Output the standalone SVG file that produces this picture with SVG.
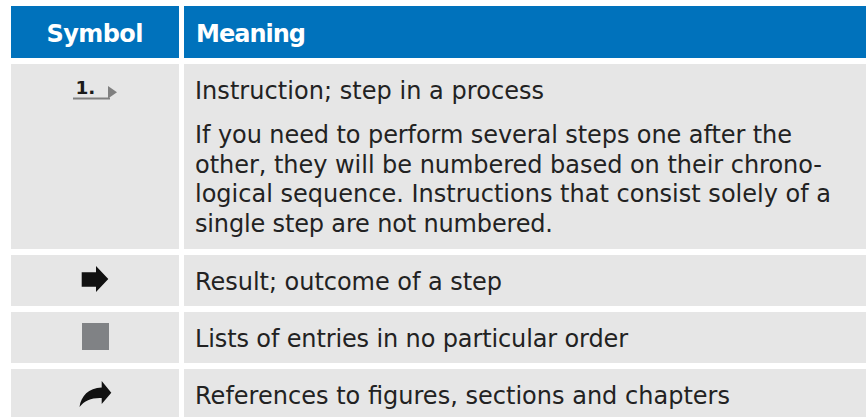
<svg xmlns="http://www.w3.org/2000/svg" width="866" height="417" viewBox="0 0 866 417">
<style>
.hd{fill:#0072BC}
.cell{fill:#E6E6E6}
.ht{font-family:"DejaVu Sans",sans-serif;font-weight:bold;font-size:24px;fill:#FFFFFF}
.t{font-family:"DejaVu Sans",sans-serif;font-size:24px;fill:#222222}
</style>
<rect width="866" height="417" fill="#FFFFFF"/>
<g id="header">
<rect class="hd" x="11" y="6" width="168" height="52"/>
<rect class="hd" x="184" y="6" width="682" height="52"/>
<text class="ht" x="95" y="41.7" text-anchor="middle" textLength="97">Symbol</text>
<text class="ht" x="196" y="41.7" textLength="110">Meaning</text>
</g>
<g id="row-instruction">
<rect class="cell" x="11" y="64" width="168" height="185"/>
<rect class="cell" x="184" y="64" width="682" height="185"/>
<text x="75.5" y="94" font-family="'DejaVu Sans',sans-serif" font-weight="bold" font-size="18.5" fill="#1A1A1A">1.</text>
<rect x="73" y="97.5" width="37" height="2" fill="#808080"/>
<polygon points="108,86 117,92.3 108,98.5" fill="#808080"/>
<text class="t" x="195" y="99" textLength="349">Instruction; step in a process</text>
<text class="t" x="195" y="143" textLength="597">If you need to perform several steps one after the</text>
<text class="t" x="195" y="172.5" textLength="627">other, they will be numbered based on their chrono-</text>
<text class="t" x="195" y="202" textLength="636">logical sequence. Instructions that consist solely of a</text>
<text class="t" x="195" y="231.5" textLength="358">single step are not numbered.</text>
</g>
<g id="row-result">
<rect class="cell" x="11" y="255" width="168" height="51"/>
<rect class="cell" x="184" y="255" width="682" height="51"/>
<polygon points="81.7,272.3 96,272.3 96,266 108.3,279 96,292 96,286.7 81.7,286.7" fill="#111111"/>
<text class="t" x="195" y="289.5" textLength="307">Result; outcome of a step</text>
</g>
<g id="row-list">
<rect class="cell" x="11" y="312" width="168" height="51"/>
<rect class="cell" x="184" y="312" width="682" height="51"/>
<rect x="82" y="323" width="27" height="27" fill="#808285"/>
<text class="t" x="195" y="346.7" textLength="433">Lists of entries in no particular order</text>
</g>
<g id="row-reference">
<rect class="cell" x="11" y="369" width="168" height="60"/>
<rect class="cell" x="184" y="369" width="682" height="60"/>
<path d="M101.7 381 L111.3 392.7 L101.7 404 L101.7 398 C92 397.5 84.5 400.5 79.5 407 C81 396 88.5 388 101.7 387.5 Z" fill="#111111"/>
<text class="t" x="195" y="404" textLength="535">References to figures, sections and chapters</text>
</g>
<g id="connectors"></g>
</svg>
